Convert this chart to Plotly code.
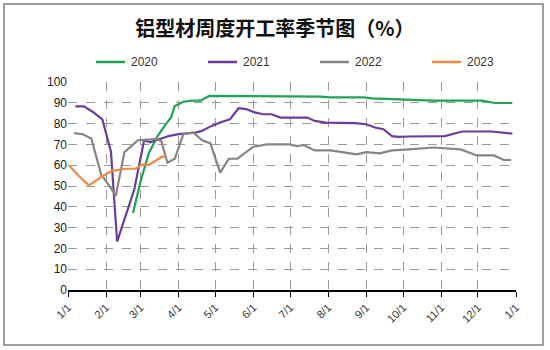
import plotly.graph_objects as go

# Weekly operating rate of aluminium profile plants, plotted on a common calendar year
dates_2020 = ["2023-02-23", "2023-03-01", "2023-03-08", "2023-03-15", "2023-03-22", "2023-03-26",
              "2023-03-29", "2023-04-05", "2023-04-12", "2023-04-19", "2023-04-26", "2023-05-03",
              "2023-05-31", "2023-06-28", "2023-07-19", "2023-07-26", "2023-08-02", "2023-08-30",
              "2023-09-06", "2023-09-20", "2023-09-27", "2023-10-11", "2023-10-25", "2023-11-15",
              "2023-12-04", "2023-12-15", "2023-12-29"]
rate_2020 = [37, 52, 66, 74, 80, 83, 88.5, 90.5, 91, 91, 93.3, 93.3,
             93.3, 93.3, 93.3, 93, 92.6, 92.6, 92.1, 91.8, 91.4, 91, 91, 91,
             91, 89.9, 89.9]

dates_2021 = ["2023-01-07", "2023-01-14", "2023-01-21", "2023-01-29", "2023-02-05", "2023-02-10",
              "2023-02-24", "2023-03-04", "2023-03-09", "2023-03-16", "2023-03-24", "2023-04-01",
              "2023-04-08", "2023-04-15", "2023-04-20", "2023-04-28", "2023-05-06", "2023-05-13",
              "2023-05-20", "2023-05-26", "2023-06-02", "2023-06-09", "2023-06-16", "2023-06-23",
              "2023-07-15", "2023-07-21", "2023-07-30", "2023-08-23", "2023-09-01", "2023-09-08",
              "2023-09-15", "2023-09-22", "2023-09-27", "2023-10-06", "2023-11-04", "2023-11-18",
              "2023-12-12", "2023-12-29"]
rate_2021 = [88.3, 88.3, 85.7, 82, 66.5, 23.3,
             48.3, 72, 71, 72.5, 74, 74.9,
             75.2, 75.7, 76.5, 78.9, 80.8, 82.1,
             87.4, 87, 85.4, 84.5, 84.5, 82.9,
             82.9, 81.3, 80.5, 80.2, 79.7, 78.1,
             77.3, 74, 73.6, 73.8, 74, 76.2,
             76.2, 75.2]

dates_2022 = ["2023-01-06", "2023-01-13", "2023-01-20", "2023-01-28", "2023-02-01", "2023-02-09",
              "2023-02-16", "2023-02-27", "2023-03-13", "2023-03-18", "2023-03-23", "2023-03-29",
              "2023-04-05", "2023-04-13", "2023-04-20", "2023-04-27", "2023-05-05", "2023-05-12",
              "2023-05-19", "2023-06-01", "2023-06-12", "2023-06-30", "2023-07-07", "2023-07-12",
              "2023-07-21", "2023-08-03", "2023-08-24", "2023-09-01", "2023-09-12", "2023-09-22",
              "2023-10-06", "2023-10-14", "2023-10-26", "2023-11-17", "2023-11-30", "2023-12-14",
              "2023-12-22", "2023-12-28"]
rate_2022 = [75.4, 74.9, 72.8, 55.5, 52.3, 45.4,
             66.3, 72, 72.5, 71.6, 61.2, 63.1,
             74.9, 75.7, 72.1, 70.5, 56.4, 63.1,
             63.1, 68.9, 70, 70, 69.2, 69.7,
             67.1, 67.1, 65.2, 66.3, 65.7, 67.1,
             67.6, 68.1, 68.5, 67.6, 64.7, 64.7,
             62.5, 62.5]

dates_2023 = ["2023-01-02", "2023-01-10", "2023-01-18", "2023-01-29", "2023-02-06", "2023-02-17",
              "2023-02-25", "2023-03-03", "2023-03-08", "2023-03-19", "2023-03-22"]
rate_2023 = [59.9, 54.7, 50.3, 54.7, 57.3, 58.3,
             58.3, 60.4, 60.2, 64.2, 63.8]

tick_dates = ["2023-01-01", "2023-02-01", "2023-03-01", "2023-04-01", "2023-05-01", "2023-06-01",
              "2023-07-01", "2023-08-01", "2023-09-01", "2023-10-01", "2023-11-01", "2023-12-01",
              "2024-01-01"]
tick_text = ["1/1", "2/1", "3/1", "4/1", "5/1", "6/1", "7/1", "8/1", "9/1", "10/1", "11/1",
             "12/1", "1/1"]

series = [
    ("2020", dates_2020, rate_2020, "#21A356"),
    ("2021", dates_2021, rate_2021, "#6A3D9E"),
    ("2022", dates_2022, rate_2022, "#858585"),
    ("2023", dates_2023, rate_2023, "#EE8A45"),
]

# plot-area geometry in pixels (used to place the legend row and frame)
W, H = 550, 350
ML, MR, MT, MB = 68, 34, 82, 60
PW, PH = W - ML - MR, H - MT - MB


def px_x(x):
    return (x - ML) / PW


def px_y(y):
    return (H - MB - y) / PH


fig = go.Figure()
for name, xs, ys, color in series:
    fig.add_trace(go.Scatter(x=xs, y=ys, name=name, mode="lines", showlegend=False,
                             line=dict(color=color, width=2.2)))

# legend row: short line sample followed by the series name
legend_y = 62
for i, (name, _, _, color) in enumerate(series):
    x0 = 96 + 112 * i
    fig.add_shape(type="line", xref="paper", yref="paper",
                  x0=px_x(x0), x1=px_x(x0 + 29), y0=px_y(legend_y), y1=px_y(legend_y),
                  line=dict(color=color, width=2.5))
    fig.add_annotation(xref="paper", yref="paper", x=px_x(x0 + 33), y=px_y(legend_y),
                       text=name, showarrow=False, xanchor="left", yanchor="middle",
                       font=dict(size=12, color="#333"))

grid_kw = dict(showgrid=True, gridcolor="#9a9a9a", griddash="dash", gridwidth=1)

fig.update_layout(
    width=W, height=H,
    margin=dict(l=ML, r=MR, t=MT, b=MB),
    paper_bgcolor="white", plot_bgcolor="white",
    font=dict(family="Liberation Sans, Arial, sans-serif", size=12, color="#222"),
    title=dict(text="<b>铝型材周度开工率季节图（%）</b>",
               font=dict(family="Noto Sans CJK SC", size=20, color="#111"),
               x=0.5, xanchor="center", y=1 - 29 / 350, yanchor="middle",
               xref="container", yref="container"),
    xaxis=dict(type="date", range=["2023-01-01", "2024-01-01"],
               tickmode="array", tickvals=tick_dates, ticktext=tick_text,
               tickangle=-45, ticks="outside", ticklen=5, tickcolor="#000",
               showline=True, linecolor="#000", linewidth=1.5,
               tickfont=dict(size=11, color="#333"), zeroline=False, **grid_kw),
    yaxis=dict(range=[0, 100], dtick=10, showline=False, zeroline=False,
               tickfont=dict(size=12, color="#222"), ticks="", **grid_kw),
    showlegend=False,
)

# thin frame around the whole chart
fig.add_shape(type="rect", xref="paper", yref="paper",
              x0=px_x(4), x1=px_x(543), y0=px_y(345), y1=px_y(4),
              line=dict(color="#808080", width=1.5), fillcolor="rgba(0,0,0,0)", layer="below")

fig.write_html("out.html")
